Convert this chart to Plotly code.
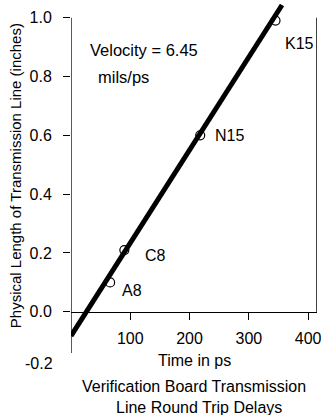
import plotly.graph_objects as go

# Measured round-trip delays for the verification board traces
trace_names = ["A8", "C8", "N15", "K15"]
delay_ps = [66, 90, 218, 345]
length_in = [0.10, 0.21, 0.60, 0.99]

# Least-squares fit drawn through the measurements
fit_slope = 0.00316      # inches per ps
fit_intercept = -0.082   # inches
fit_time_span = [0, 356]
fit_length = [fit_slope * t + fit_intercept for t in fit_time_span]

x_ticks = [100, 200, 300, 400]
y_ticks = [0.0, 0.2, 0.4, 0.6, 0.8, 1.0]

# where each label sits relative to its marker (pixels)
label_shift = [(10, -8), (19, -5), (13, 0), (7, -23)]

FONT = "Liberation Sans, Arial, sans-serif"
X_MAX = 415
Y_MIN, Y_MAX = -0.14, 1.06

fig = go.Figure()

fig.add_trace(go.Scatter(
    x=fit_time_span, y=fit_length, mode="lines",
    line=dict(color="black", width=5), showlegend=False,
    hoverinfo="skip",
))
fig.add_trace(go.Scatter(
    x=delay_ps, y=length_in, mode="markers",
    marker=dict(symbol="circle-open", size=9, color="black",
                line=dict(width=1.2, color="black")),
    showlegend=False,
))

for name, t, L, (dx, dy) in zip(trace_names, delay_ps, length_in, label_shift):
    fig.add_annotation(x=t, y=L, text=name, showarrow=False,
                       xanchor="left", yanchor="middle",
                       xshift=dx, yshift=dy,
                       font=dict(size=16, color="black", family=FONT))

fig.add_annotation(x=28, y=0.891, text="Velocity = 6.45", showarrow=False,
                   xanchor="left", yanchor="middle",
                   font=dict(size=16.5, color="black", family=FONT))
fig.add_annotation(x=43, y=0.799, text="mils/ps", showarrow=False,
                   xanchor="left", yanchor="middle",
                   font=dict(size=16.5, color="black", family=FONT))

# left spine, right edge
fig.add_shape(type="line", x0=0, x1=0, y0=Y_MIN, y1=1.0,
              line=dict(color="black", width=1.3))
fig.add_shape(type="line", x0=X_MAX, x1=X_MAX, y0=0, y1=1.0,
              line=dict(color="black", width=1.5))

# lone lower label on the length axis
fig.add_annotation(xref="paper", yref="paper", x=0, y=-0.029, text="-0.2",
                   showarrow=False, xanchor="right", yanchor="middle",
                   xshift=-16,
                   font=dict(size=16, color="black", family=FONT))

fig.add_annotation(xref="paper", yref="paper", x=0.5, y=-0.0204,
                   text="Time in ps", showarrow=False, yanchor="middle",
                   font=dict(size=16, color="black", family=FONT))
fig.add_annotation(xref="paper", yref="paper", x=0.5, y=-0.094,
                   text="Verification Board Transmission", showarrow=False,
                   yanchor="middle",
                   font=dict(size=16, color="black", family=FONT))
fig.add_annotation(xref="paper", yref="paper", x=0.52, y=-0.154,
                   text="Line Round Trip Delays", showarrow=False,
                   yanchor="middle",
                   font=dict(size=16, color="black", family=FONT))
fig.add_annotation(xref="paper", yref="paper", x=-0.226, y=0.502,
                   text="Physical Length of Transmission Line (inches)",
                   textangle=-90, showarrow=False,
                   xanchor="center", yanchor="middle",
                   font=dict(size=15, color="black", family=FONT))

zero_frac = (0 - Y_MIN) / (Y_MAX - Y_MIN)

fig.update_xaxes(
    range=[0, X_MAX], anchor="free", position=zero_frac,
    showline=True, linecolor="black", linewidth=1.3,
    showgrid=False, zeroline=False,
    tickmode="array", tickvals=x_ticks, ticktext=[str(v) for v in x_ticks],
    ticks="outside", ticklen=7, tickwidth=1.3, tickcolor="black",
    ticklabelstandoff=5, ticklabeloverflow="allow",
    tickfont=dict(size=16, color="black", family=FONT),
)
fig.update_yaxes(
    range=[Y_MIN, Y_MAX], showline=False, showgrid=False, zeroline=False,
    tickmode="array", tickvals=y_ticks, ticktext=[f"{v:.1f}" for v in y_ticks],
    ticks="outside", ticklen=7, tickwidth=1.3, tickcolor="black",
    ticklabelstandoff=8,
    tickfont=dict(size=16, color="black", family=FONT),
)

fig.update_layout(
    width=321, height=415,
    margin=dict(l=71, r=4, t=0, b=62),
    paper_bgcolor="white", plot_bgcolor="white",
    font=dict(family=FONT, color="black"),
)

fig.write_html("out.html")
